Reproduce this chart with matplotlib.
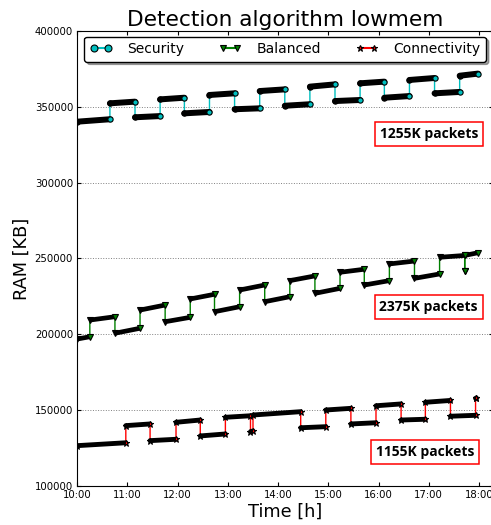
import matplotlib
matplotlib.use("Agg")
import matplotlib.pyplot as plt
from matplotlib.lines import Line2D

# Segments: start/end time and start/end RAM [KB]
sec_t0 = ["10:00", "10:39", "11:09", "11:39", "12:08", "12:38", "13:08", "13:38",
          "14:08", "14:38", "15:08", "15:38", "16:07", "16:37", "17:07", "17:37"]
sec_t1 = ["10:39", "11:09", "11:39", "12:08", "12:38", "13:08", "13:38", "14:08",
          "14:38", "15:08", "15:38", "16:07", "16:37", "17:07", "17:37", "17:59"]
sec_v0 = [340200, 352300, 343100, 354900, 345700, 357800, 348400, 360400,
          350700, 363300, 353800, 365500, 356000, 367700, 358900, 370500]
sec_v1 = [341800, 353400, 343900, 356000, 346600, 358900, 349000, 361500,
          351700, 364800, 354500, 366600, 357100, 369000, 359800, 371900]

bal_t0 = ["10:00", "10:15", "10:45", "11:15", "11:45", "12:15", "12:44", "13:14", "13:44",
          "14:14", "14:44", "15:14", "15:43", "16:13", "16:43", "17:13", "17:43", "17:43"]
bal_t1 = ["10:15", "10:45", "11:15", "11:45", "12:15", "12:44", "13:14", "13:44", "14:14",
          "14:44", "15:14", "15:43", "16:13", "16:43", "17:13", "17:43", "17:43", "17:59"]
bal_v0 = [196900, 209400, 200700, 216000, 208300, 223300, 214900, 229200, 221500,
          235400, 227000, 240900, 232500, 246400, 236900, 250800, 241900, 252000]
bal_v1 = [198400, 211600, 204000, 219300, 211200, 226400, 218200, 232500, 224800,
          238500, 230300, 242900, 235400, 248300, 239800, 252000, 241900, 253800]

con_t0 = ["10:00", "10:58", "11:27", "11:58", "12:27", "12:57", "13:27", "13:30",
          "14:27", "14:57", "15:27", "15:57", "16:27", "16:56", "17:26", "17:56"]
con_t1 = ["10:58", "11:27", "11:58", "12:27", "12:57", "13:27", "13:30", "14:27",
          "14:57", "15:27", "15:57", "16:27", "16:56", "17:26", "17:56", "17:57"]
con_v0 = [126600, 139800, 129900, 142000, 133000, 145300, 135800, 146800,
          138400, 150100, 140900, 152900, 143500, 155200, 146000, 157800]
con_v1 = [128500, 140900, 130800, 143500, 134300, 146300, 136300, 149000,
          139100, 151200, 141700, 154100, 144000, 156400, 146600, 158000]

hour_labels = ["10:00", "11:00", "12:00", "13:00", "14:00", "15:00", "16:00", "17:00", "18:00"]
y_ticks = [100000, 150000, 200000, 250000, 300000, 350000, 400000]


def hours(s):
    h, m = s.split(":")
    return int(h) - 10 + int(m) / 60.0


fig = plt.figure(figsize=(4.91, 5.25), dpi=100)
ax = fig.add_axes([0.1574, 0.0743, 0.8466, 0.8667])


def draw(t0, t1, v0, v1, color, marker, ms, band, cap):
    x0 = [hours(t) for t in t0]
    x1 = [hours(t) for t in t1]
    xs, ys = [], []
    for a, b, c, d in zip(x0, x1, v0, v1):
        xs += [a, b]
        ys += [c, d]
    # thin coloured line joins the segments (visible at the jumps)
    ax.plot(xs, ys, color=color, lw=1.0, zorder=2)
    # dense black-edged markers look like a thick black band
    for a, b, c, d in zip(x0, x1, v0, v1):
        ax.plot([a, b], [c, d], color="k", lw=band, solid_capstyle=cap, zorder=3)
    ax.plot(x0, v0, ls="none", marker=marker, ms=ms, mfc="k", mec="k", mew=0.8, zorder=3)
    ax.plot(x1, v1, ls="none", marker=marker, ms=ms, mfc=color, mec="k", mew=0.8, zorder=4)


draw(sec_t0, sec_t1, sec_v0, sec_v1, "c", "o", 3.8, 4.3, "round")
draw(bal_t0, bal_t1, bal_v0, bal_v1, "g", "v", 4.8, 3.4, "butt")
draw(con_t0, con_t1, con_v0, con_v1, "r", "*", 4.5, 3.5, "round")

ax.set_xlim(0, 8.28)
ax.set_ylim(100000, 400000)
ax.set_xticks(range(len(hour_labels)))
ax.set_xticklabels(hour_labels)
ax.set_yticks(y_ticks)
ax.set_yticklabels([str(v) for v in y_ticks])
ax.tick_params(direction="in", top=True, right=True, length=3, width=0.8,
               labelsize=7.3, pad=3)
ax.yaxis.grid(True, ls=":", color="gray", lw=0.7)
ax.set_axisbelow(True)

ax.set_title("Detection algorithm lowmem", fontsize=15.6, pad=3.5)
ax.set_xlabel("Time [h]", fontsize=12.8, labelpad=2)
ax.set_ylabel("RAM [KB]", fontsize=12.8, labelpad=3)

handles = [
    Line2D([], [], color="c", marker="o", ms=5, mfc="c", mec="k", mew=0.8, label="Security"),
    Line2D([], [], color="g", marker="v", ms=5, mfc="g", mec="k", mew=0.8, label="Balanced"),
    Line2D([], [], color="r", marker="*", ms=5, mfc="r", mec="k", mew=0.8, label="Connectivity"),
]
ax.legend(handles=handles, loc="upper center", ncol=3, numpoints=2, fancybox=True,
          shadow=True, fontsize=10, handlelength=1.6, handletextpad=1.1,
          columnspacing=2.5, borderaxespad=0.4, edgecolor="k", framealpha=1)

box = dict(boxstyle="square,pad=0.35", fc="white", ec="red", lw=1.1)
ax.text(7.0, 332000, "1255K packets", ha="center", va="center", fontsize=10,
        fontweight="bold", family="Open Sans", bbox=box, zorder=5)
ax.text(7.0, 218200, "2375K packets", ha="center", va="center", fontsize=10,
        fontweight="bold", family="Open Sans", bbox=box, zorder=5)
ax.text(6.93, 122600, "1155K packets", ha="center", va="center", fontsize=10,
        fontweight="bold", family="Open Sans", bbox=box, zorder=5)

fig.savefig("out.png", dpi=100)
